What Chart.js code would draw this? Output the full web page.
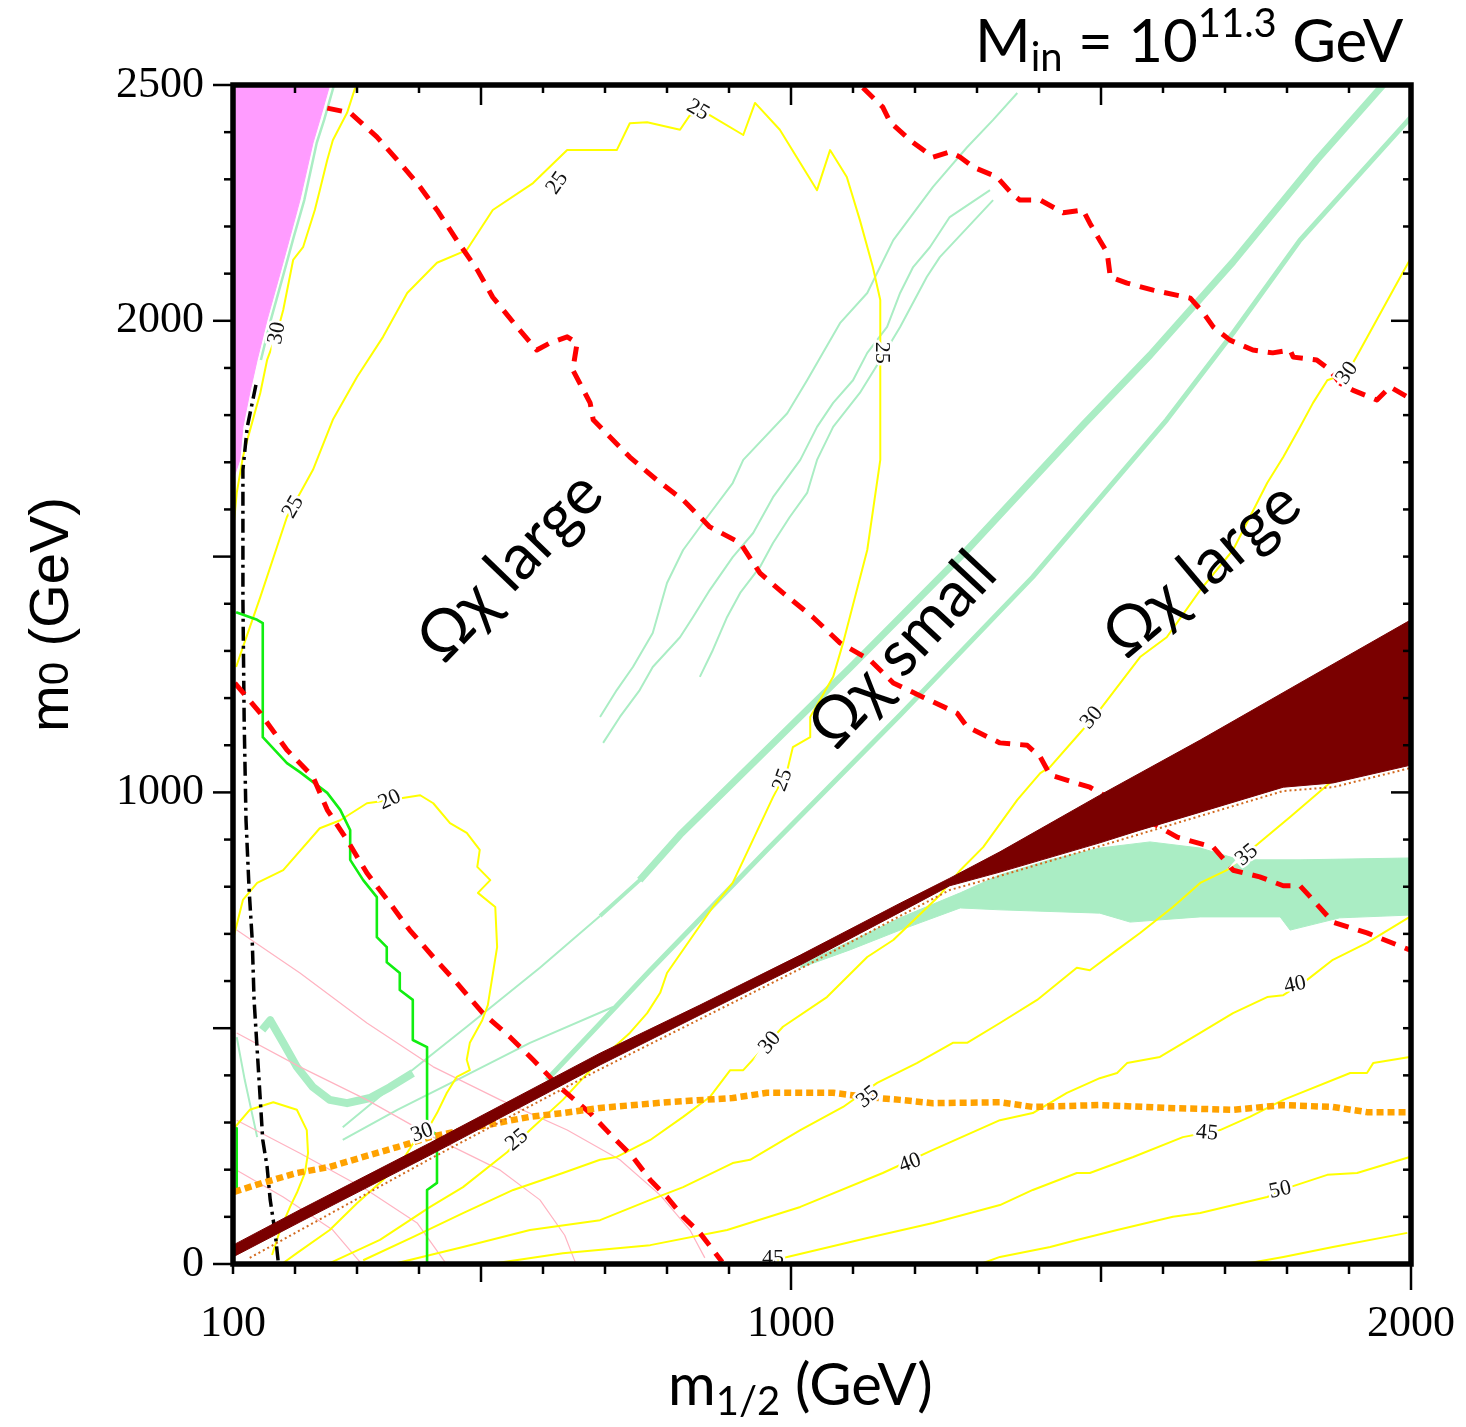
<!DOCTYPE html>
<html>
<head>
<meta charset="utf-8">
<script src="https://cdn.jsdelivr.net/npm/chart.js@4/dist/chart.umd.min.js"></script>
<style>
  html, body { margin: 0; padding: 0; background: #fff; }
  canvas { display: block; }
</style>
</head>
<body>
<canvas id="plane" width="1466" height="1427"></canvas>
<script>
// ---- axes -------------------------------------------------------------
const xTickLabels = [100, 1000, 2000];
const yTickLabels = [0, 1000, 2000, 2500];

// ---- excluded region at small m1/2, large m0 (pink) ----------------------
const pinkM12 = [100, 256, 240, 229, 208, 192, 176, 155, 139, 127, 116, 111, 100, 100];
const pinkM0  = [2500, 2500, 2426, 2377, 2256, 2178, 2101, 2002, 1917, 1847, 1775, 1705, 1662, 2500];

// ---- charged LSP region (dark red): upper edge then lower edge -------------
const lspM12 = [100, 208, 418, 692, 853, 1015, 1176, 1256, 1337, 1498, 1660, 1821, 2000,
                2000, 1874, 1794, 1660, 1563, 1498, 1337, 1256, 1176, 1015, 853, 692, 418, 208, 100, 100];
const lspM0  = [40, 115, 257, 447, 549, 655, 765, 818, 874, 994, 1111, 1232, 1366,
                1058, 1020, 1011, 958, 920, 893, 831, 802, 746, 634, 528, 422, 231, 89, 15, 40];
// brownish rim under the dark red region
const rimM12 = [127, 418, 692, 1015, 1176, 1256, 1337, 1498, 1660, 1794, 1874, 2000];
const rimM0  = [13, 223, 413, 626, 738, 793, 823, 886, 950, 1003, 1011, 1052];

// ---- relic density: filled patch and strips (light green) -------------------
const patchM12 = [1015, 1176, 1273, 1337, 1418, 1498, 1579, 1660, 1724, 1821, 2000,
                  2000, 1885, 1805, 1789, 1660, 1547, 1498, 1337, 1273, 1176, 1095, 1015];
const patchM0  = [634, 734, 787, 825, 857, 882, 895, 882, 857, 857, 861,
                  740, 734, 708, 736, 736, 725, 744, 751, 755, 708, 666, 628];
const stripAM12 = [1955, 1848, 1713, 1579, 1471, 1284, 1095, 906, 821, 756];
const stripAM0  = [2500, 2341, 2125, 1927, 1779, 1514, 1264, 1020, 910, 814];
const stripAMidM12 = [821, 756, 692];
const stripAMidM0  = [910, 814, 738];
const stripATailM12 = [692, 595, 477, 369, 277];
const stripATailM0  = [738, 628, 503, 390, 290];
const stripBM12 = [2000, 1821, 1713, 1606, 1390, 1176, 961, 773, 606];
const stripBM0  = [2432, 2171, 1974, 1790, 1457, 1164, 878, 623, 390];
const stripCM12 = [277, 365, 471, 579, 713];
const stripCM0  = [263, 327, 397, 469, 545];
const hookM12 = [147, 160, 181, 203, 229, 256, 284, 321, 353, 390];
const hookM0  = [496, 517, 469, 418, 375, 348, 341, 352, 375, 405];
const hookStemM12 = [106, 119, 139];
const hookStemM0  = [481, 390, 269];
const edgeM12 = [263, 247, 235, 215, 198, 182, 161, 145];
const edgeM0  = [2500, 2426, 2377, 2256, 2178, 2101, 2002, 1917];
const ladder1M12 = [1365, 1326, 1284, 1229, 1165, 1123, 1079, 1026, 994, 923, 906, 865, 826, 800, 777, 745, 719, 692];
const ladder1M0  = [2483, 2426, 2368, 2284, 2171, 2059, 1995, 1874, 1804, 1705, 1656, 1584, 1514, 1444, 1338, 1266, 1217, 1160];
const ladder2M12 = [1321, 1256, 1224, 1197, 1176, 1155, 1123, 1100, 1068, 1042, 1015, 971, 939, 906, 869, 842, 821, 777, 756, 724, 697];
const ladder2M0  = [2277, 2220, 2156, 2114, 2059, 1987, 1932, 1874, 1826, 1775, 1705, 1626, 1550, 1499, 1429, 1372, 1329, 1266, 1217, 1160, 1105];
const ladder3M12 = [1326, 1240, 1219, 1176, 1144, 1111, 1068, 1042, 1026, 998, 971, 950, 918, 897, 874, 853];
const ladder3M0  = [2256, 2135, 2093, 1987, 1917, 1847, 1775, 1705, 1635, 1584, 1529, 1478, 1423, 1372, 1302, 1245];

// ---- red dashed contours --------------------------------------------------
const redAM12 = [252, 289, 332, 365, 397, 429, 461, 494, 519, 558, 590, 611, 639, 655, 648, 676, 681, 740, 784, 826, 869, 918, 950, 987, 1035, 1079, 1127, 1165, 1213, 1268, 1284, 1337, 1381, 1402, 1418, 1482, 1623, 1681, 1713, 1756, 1794, 1821, 1842, 1874, 1929, 1998];
const redAM0  = [2451, 2441, 2390, 2341, 2292, 2235, 2171, 2108, 2050, 1987, 1938, 1953, 1966, 1953, 1896, 1826, 1790, 1711, 1662, 1620, 1563, 1529, 1465, 1423, 1372, 1317, 1281, 1232, 1202, 1168, 1139, 1105, 1100, 1075, 1037, 1011, 905, 884, 835, 821, 802, 802, 772, 725, 702, 666];
const redBM12 = [1116, 1148, 1160, 1192, 1229, 1256, 1273, 1294, 1332, 1358, 1369, 1402, 1439, 1471, 1482, 1498, 1510, 1515, 1542, 1584, 1644, 1665, 1681, 1708, 1745, 1777, 1805, 1810, 1848, 1869, 1885, 1906, 1945, 1966, 1995];
const redBM0  = [2494, 2453, 2421, 2383, 2347, 2358, 2347, 2326, 2305, 2267, 2256, 2256, 2229, 2235, 2207, 2171, 2144, 2093, 2080, 2065, 2048, 2017, 1987, 1959, 1938, 1932, 1938, 1923, 1917, 1896, 1868, 1853, 1832, 1860, 1838];
const redCM12 = [103, 144, 187, 229, 252, 284, 316, 353, 385, 423, 461, 503, 547, 584, 627, 676, 713, 745, 773, 800, 826, 853, 874, 889];
const redCM0  = [1232, 1168, 1090, 1033, 963, 899, 829, 765, 708, 651, 596, 532, 481, 433, 375, 320, 269, 227, 178, 142, 100, 66, 30, 4];

// ---- bright green staircase ------------------------------------------------
const stairM12 = [105, 139, 148, 148, 187, 208, 252, 273, 289, 289, 310, 332, 332, 348, 348, 369, 369, 390, 390, 413, 413, 429, 429, 413, 413];
const stairM0  = [1382, 1366, 1359, 1117, 1062, 1043, 999, 963, 920, 857, 814, 778, 693, 672, 640, 617, 581, 560, 475, 460, 288, 274, 172, 157, 0];
const stairEdgeM12 = [106, 106];
const stairEdgeM0  = [288, 157];

// ---- black dash-dot line ----------------------------------------------------
const dashDotM12 = [137, 123, 116, 116, 118, 121, 126, 131, 134, 139, 144, 148, 155, 160, 168, 173];
const dashDotM0  = [1864, 1775, 1684, 1408, 1153, 941, 793, 687, 560, 454, 348, 263, 206, 136, 66, 4];

// ---- orange dotted line -------------------------------------------------------
const orangeM12 = [102, 148, 203, 256, 310, 365, 418, 471, 526, 579, 632, 692, 800, 906, 961, 1068, 1123, 1176, 1229, 1337, 1390, 1498, 1606, 1713, 1794, 1874, 1929, 1998];
const orangeM0  = [153, 172, 193, 206, 227, 248, 269, 284, 299, 312, 320, 331, 343, 352, 363, 363, 354, 348, 341, 343, 333, 337, 331, 327, 337, 333, 322, 322];

// ---- yellow contours ------------------------------------------------------------
const y25M12 = [105, 116, 144, 187, 229, 261, 300, 342, 381, 429, 477, 519, 584, 639, 719, 740, 768, 821, 837, 869, 923, 942, 982, 1042, 1063, 1090, 1111, 1132, 1144, 1144, 1123, 1084, 1068, 1031, 1031, 1003, 994, 971, 906, 874, 800, 789, 768, 740, 692, 632, 579, 542, 471, 418, 337, 256];
const y25M0  = [1266, 1308, 1414, 1584, 1684, 1790, 1881, 1966, 2059, 2123, 2150, 2235, 2292, 2362, 2362, 2419, 2421, 2405, 2436, 2436, 2394, 2462, 2405, 2277, 2362, 2305, 2214, 2114, 2044, 1705, 1514, 1317, 1245, 1160, 1117, 1096, 1047, 990, 808, 757, 617, 575, 532, 490, 433, 348, 284, 237, 163, 121, 51, 2];
const y30LeftM12 = [297, 284, 261, 252, 240, 232, 213, 197, 181, 171, 155, 144, 123, 116, 106, 102];
const y30LeftM0  = [2494, 2441, 2383, 2341, 2277, 2235, 2156, 2129, 2023, 1974, 1917, 1847, 1747, 1711, 1635, 1578];
const y20M12 = [102, 116, 139, 181, 240, 273, 316, 353, 402, 423, 450, 477, 498, 494, 515, 495, 523, 526, 511, 502, 482, 477, 482, 461, 445, 429, 418];
const y20M0  = [698, 772, 808, 835, 924, 941, 977, 984, 994, 977, 935, 914, 878, 842, 814, 787, 757, 672, 549, 517, 469, 433, 411, 397, 363, 320, 295];
const y30LowM12 = [394, 374, 342, 300, 256, 203, 181];
const y30LowM0  = [263, 221, 178, 129, 72, 23, 2];
const yLoopM12 = [103, 127, 165, 203, 219, 221, 216, 203, 192, 176, 163];
const yLoopM0  = [290, 327, 343, 327, 284, 235, 193, 151, 121, 72, 19];
const y30M12 = [1998, 1971, 1918, 1897, 1865, 1842, 1821, 1794, 1768, 1713, 1660, 1606, 1563, 1498, 1466, 1418, 1402, 1365, 1310, 1273, 1240, 1165, 1123, 1058, 987, 923, 902, 869, 826, 773, 719, 692, 632, 552, 471, 390, 310];
const y30M0  = [2129, 2065, 1938, 1889, 1874, 1826, 1775, 1711, 1656, 1514, 1429, 1329, 1287, 1175, 1126, 1054, 1041, 984, 884, 835, 782, 687, 651, 566, 503, 411, 411, 354, 312, 263, 227, 221, 193, 157, 108, 57, 8];
const y35M12 = [2000, 1869, 1805, 1735, 1703, 1660, 1616, 1563, 1526, 1482, 1461, 1397, 1337, 1284, 1261, 1203, 1139, 1084, 1015, 934, 906, 826, 773, 692, 579, 471, 365];
const y35M0  = [1164, 1020, 948, 871, 835, 808, 757, 702, 666, 623, 628, 560, 511, 469, 469, 426, 384, 333, 284, 221, 214, 163, 136, 93, 72, 36, 2];
const y40M12 = [1998, 1929, 1874, 1832, 1794, 1768, 1713, 1660, 1595, 1542, 1526, 1498, 1445, 1390, 1337, 1229, 1148, 1015, 897, 773, 632, 526];
const y40M0  = [736, 681, 645, 602, 570, 566, 532, 490, 439, 426, 405, 394, 363, 320, 305, 242, 193, 121, 72, 40, 23, 2];
const y45M12 = [1998, 1939, 1929, 1902, 1794, 1740, 1692, 1632, 1552, 1482, 1461, 1390, 1337, 1229, 1123, 994, 966];
const y45M0  = [439, 426, 405, 405, 348, 312, 284, 269, 227, 193, 193, 157, 125, 87, 55, 15, 2];
const y50M12 = [1998, 1913, 1865, 1805, 1768, 1660, 1616, 1526, 1461, 1418, 1337, 1310];
const y50M0  = [227, 193, 189, 163, 142, 108, 100, 72, 51, 36, 15, 2];
const y55M12 = [1994, 1874, 1794, 1740];
const y55M0  = [66, 36, 15, 2];

// ---- thin pink contours -----------------------------------------------------------
const pink1M12 = [106, 208, 316, 423, 531, 639, 724, 789, 837, 861];
const pink1M0  = [708, 617, 511, 418, 348, 284, 221, 146, 72, 13];
const pink2M12 = [106, 208, 316, 423, 531, 595, 635, 652];
const pink2M0  = [490, 418, 348, 269, 199, 136, 61, 4];
const pink3M12 = [106, 208, 316, 397, 442];
const pink3M0  = [305, 235, 157, 87, 4];
const pink4M12 = [106, 181, 261, 305];
const pink4M0  = [199, 142, 72, 4];

// ---- contour value labels ----------------------------------------------------------
const labelM12  = [850, 623, 1147, 987, 197, 558, 171, 1897, 1485, 966, 405, 353, 1735, 1124, 1813, 1192, 1671, 971, 1789];
const labelM0   = [2447, 2292, 1932, 1026, 1605, 263, 1974, 1889, 1158, 469, 278, 984, 867, 354, 592, 214, 278, 13, 157];
const labelText = ['25', '25', '25', '25', '25', '25', '30', '30', '30', '30', '30', '20', '35', '35', '40', '40', '45', '45', '50'];
const labelAngle = [30, -55, 90, -70, -60, -40, -80, -55, -50, -50, -20, -25, -40, -40, -12, -20, 5, 0, -12];

// ---- region annotations --------------------------------------------------------------
const regionText = ['\u03A9\u03C7 large', '\u03A9\u03C7 small', '\u03A9\u03C7 large'];
const regionM12 = [547, 1180, 1663];
const regionM0  = [1478, 1302, 1472];
const regionAngle = [-46, -47, -40];

// ---------------------------------------------------------------------------------------
const pts = (xs, ys) => xs.map((x, i) => ({ x, y: ys[i] }));

function curve(xs, ys, color, width, order, dash) {
  return {
    data: pts(xs, ys), borderColor: color, borderWidth: width, borderDash: dash || [],
    order, pointRadius: 0, pointHoverRadius: 0, fill: false, tension: 0,
    borderCapStyle: 'butt', borderJoinStyle: 'round'
  };
}
function area(xs, ys, color, order) {
  return {
    data: pts(xs, ys), borderColor: color, backgroundColor: color, borderWidth: 1,
    order, pointRadius: 0, pointHoverRadius: 0, fill: 'shape', tension: 0
  };
}

const GREEN = '#aaedc4', YELLOW = '#ffff00', RED = '#ff0000', PINKLINE = '#ffb3c1';
const redDash = [15, 10];

const datasets = [
  area(patchM12, patchM0, GREEN, 30),
  area(pinkM12, pinkM0, '#ff9cff', 29),
  curve(stripAM12, stripAM0, GREEN, 7, 28),
  curve(stripAMidM12, stripAMidM0, GREEN, 4, 28),
  curve(stripATailM12, stripATailM0, GREEN, 2, 28),
  curve(stripBM12, stripBM0, GREEN, 5, 28),
  curve(stripCM12, stripCM0, GREEN, 2, 28),
  curve(hookM12, hookM0, GREEN, 8, 28),
  curve(hookStemM12, hookStemM0, GREEN, 2, 28),
  curve(edgeM12, edgeM0, GREEN, 2.5, 28),
  curve(ladder1M12, ladder1M0, GREEN, 2, 28),
  curve(ladder2M12, ladder2M0, GREEN, 2, 28),
  curve(ladder3M12, ladder3M0, GREEN, 2, 28),
  curve(pink1M12, pink1M0, PINKLINE, 1.2, 27),
  curve(pink2M12, pink2M0, PINKLINE, 1.2, 27),
  curve(pink3M12, pink3M0, PINKLINE, 1.2, 27),
  curve(pink4M12, pink4M0, PINKLINE, 1.2, 27),
  curve(y25M12, y25M0, YELLOW, 2, 26),
  curve(y30LeftM12, y30LeftM0, YELLOW, 2, 26),
  curve(y20M12, y20M0, YELLOW, 2, 26),
  curve(y30LowM12, y30LowM0, YELLOW, 2, 26),
  curve(yLoopM12, yLoopM0, YELLOW, 2, 26),
  curve(y30M12, y30M0, YELLOW, 2, 26),
  curve(y35M12, y35M0, YELLOW, 2, 26),
  curve(y40M12, y40M0, YELLOW, 2, 26),
  curve(y45M12, y45M0, YELLOW, 2, 26),
  curve(y50M12, y50M0, YELLOW, 2, 26),
  curve(y55M12, y55M0, YELLOW, 2, 26),
  curve(dashDotM12, dashDotM0, '#000000', 3.5, 25, [14, 5, 3, 5]),
  curve(stairM12, stairM0, '#11ee11', 2.6, 24),
  curve(stairEdgeM12, stairEdgeM0, '#11ee11', 2.6, 24),
  curve(redAM12, redAM0, RED, 5, 23, redDash),
  curve(redBM12, redBM0, RED, 5, 23, redDash),
  curve(redCM12, redCM0, RED, 5, 23, redDash),
  curve(orangeM12, orangeM0, '#ffa200', 6.5, 22, [7, 4]),
  curve(rimM12, rimM0, '#d2691e', 2, 21, [2, 3]),
  area(lspM12, lspM0, '#7a0000', 20)
];

// contour values and region names written on the plane
const annotations = {
  id: 'annotations',
  afterDatasetsDraw(chart) {
    const { ctx, chartArea: a, scales: { x, y } } = chart;
    ctx.save();
    ctx.beginPath();
    ctx.rect(a.left, a.top, a.width, a.height);
    ctx.clip();
    ctx.textAlign = 'center';
    ctx.textBaseline = 'middle';
    ctx.font = '22px "Liberation Serif"';
    labelText.forEach((t, i) => {
      ctx.save();
      ctx.translate(x.getPixelForValue(labelM12[i]), y.getPixelForValue(labelM0[i]));
      ctx.rotate(labelAngle[i] * Math.PI / 180);
      ctx.lineWidth = 5;
      ctx.strokeStyle = '#ffffff';
      ctx.strokeText(t, 0, 0);
      ctx.fillStyle = '#111';
      ctx.fillText(t, 0, 0);
      ctx.restore();
    });
    ctx.font = '64px Lato, "Open Sans", sans-serif';
    ctx.fillStyle = '#000';
    regionText.forEach((t, i) => {
      ctx.save();
      ctx.translate(x.getPixelForValue(regionM12[i]), y.getPixelForValue(regionM0[i]));
      ctx.rotate(regionAngle[i] * Math.PI / 180);
      ctx.fillText(t, 0, 0);
      ctx.restore();
    });
    ctx.restore();
  }
};

// heavy frame with tick marks on all four sides
const frame = {
  id: 'frame',
  afterDraw(chart) {
    const { ctx, chartArea: a, scales: { x, y } } = chart;
    ctx.save();
    ctx.strokeStyle = '#000';
    ctx.lineWidth = 2.5;
    const seg = (x1, y1, x2, y2) => { ctx.beginPath(); ctx.moveTo(x1, y1); ctx.lineTo(x2, y2); ctx.stroke(); };
    x.ticks.forEach(t => {
      const v = Math.round(t.value);
      const px = x.getPixelForValue(v);
      const outLen = v % 1000 === 0 ? 26 : (v % 500 === 0 ? 18 : 10);
      seg(px, a.bottom, px, a.bottom + outLen);
      seg(px, a.top, px, a.top + (v % 500 === 0 ? 20 : 8));
    });
    y.ticks.forEach(t => {
      const v = Math.round(t.value);
      const py = y.getPixelForValue(v);
      const outLen = v % 500 === 0 ? 20 : 9;
      seg(a.left - outLen, py, a.left, py);
      seg(a.right - (v % 1000 === 0 ? 20 : 8), py, a.right, py);
    });
    ctx.lineWidth = 5.5;
    ctx.strokeRect(a.left, a.top, a.right - a.left, a.bottom - a.top);
    ctx.restore();
  }
};

// axis titles and the heading, with sub/superscripts
const titles = {
  id: 'titles',
  afterDraw(chart) {
    const ctx = chart.ctx;
    const runs = (items, x0, base) => {
      let xp = x0;
      items.forEach(([txt, size, shift, family]) => {
        ctx.font = size + 'px ' + (family || 'Lato, "Open Sans", sans-serif');
        ctx.fillText(txt, xp, base + shift);
        xp += ctx.measureText(txt).width;
      });
    };
    ctx.save();
    ctx.fillStyle = '#000';
    ctx.textAlign = 'left';
    ctx.textBaseline = 'alphabetic';
    runs([['M', 60, 0], ['in', 40, 9], [' = 10', 60, 0], ['11.3', 40, -25], [' GeV', 60, 0]], 975, 62);
    runs([['m', 58, 0], ['1/2', 40, 10], [' (GeV)', 58, 0]], 668, 1405);
    ctx.translate(68, 732);
    ctx.rotate(-Math.PI / 2);
    const sans = '"Liberation Sans", Arial, sans-serif';
    runs([['m', 56, 0, sans], ['0', 42, 0, sans], [' (GeV)', 56, 0, sans]], 0, 0);
    ctx.restore();
  }
};

new Chart(document.getElementById('plane'), {
  type: 'line',
  data: { datasets },
  options: {
    responsive: false,
    animation: false,
    events: [],
    devicePixelRatio: 1,
    layout: { padding: { top: 85, right: 55, left: 0, bottom: 0 } },
    plugins: { legend: { display: false }, tooltip: { enabled: false } },
    scales: {
      x: {
        type: 'linear', min: 100, max: 2000,
        grid: { display: false }, border: { display: false },
        afterFit: s => { s.height = 163; s.paddingLeft = 0; s.paddingRight = 0; },
        ticks: {
          stepSize: 100, autoSkip: false, maxRotation: 0, padding: 26, color: '#000',
          font: { family: 'Liberation Serif', size: 44 },
          callback: v => xTickLabels.includes(Math.round(v)) ? String(Math.round(v)) : ''
        }
      },
      y: {
        type: 'linear', min: 0, max: 2500,
        grid: { display: false }, border: { display: false },
        afterFit: s => { s.width = 233; s.paddingTop = 0; s.paddingBottom = 0; },
        ticks: {
          stepSize: 100, autoSkip: false, padding: 21, color: '#000',
          font: { family: 'Liberation Serif', size: 44 },
          callback: v => yTickLabels.includes(Math.round(v)) ? String(Math.round(v)) : ''
        }
      }
    }
  },
  plugins: [annotations, frame, titles]
});
</script>
</body>
</html>
